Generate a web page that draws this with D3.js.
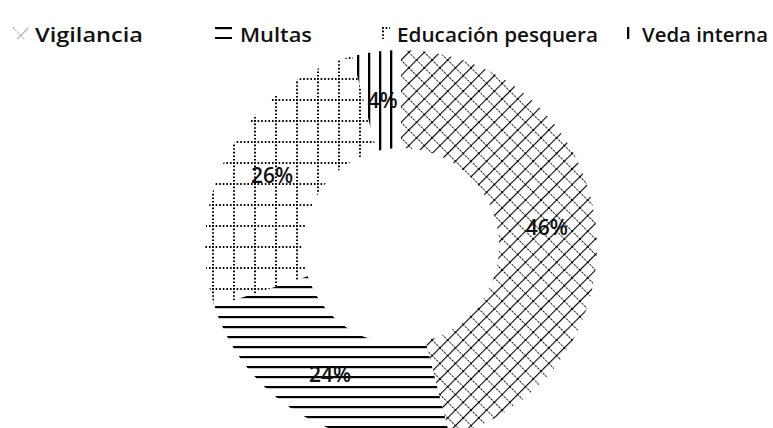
<!DOCTYPE html>
<html><head><meta charset="utf-8">
<script src="https://cdn.jsdelivr.net/npm/d3@7"></script>
<style>body{margin:0;background:#fff}svg{display:block}</style>
</head><body><svg id="c" width="773" height="428"></svg>
<script>
const categories = ["Vigilancia", "Multas", "Educación pesquera", "Veda interna"];
const values = [46, 24, 26, 4];
const patterns = ["pVig", "pMul", "pEdu", "pVed"];

const svg = d3.select("#c");
svg.append("rect").attr("width",773).attr("height",428).attr("fill","#fff");
const defs = svg.append("defs");

// Vigilancia: diagonal crosshatch
const p1 = defs.append("pattern").attr("id","pVig").attr("patternUnits","userSpaceOnUse")
  .attr("width",11).attr("height",11).attr("patternTransform","rotate(45)");
p1.append("line").attr("x1",0).attr("y1",0).attr("x2",11).attr("y2",0).attr("stroke","#000").attr("stroke-width",1.8).attr("stroke-dasharray","2,1.3");
p1.append("line").attr("x1",0).attr("y1",0).attr("x2",0).attr("y2",11).attr("stroke","#000").attr("stroke-width",2.2);
// Multas: horizontal lines
const p2 = defs.append("pattern").attr("id","pMul").attr("patternUnits","userSpaceOnUse")
  .attr("width",10).attr("height",10);
p2.append("line").attr("x1",0).attr("y1",1).attr("x2",10).attr("y2",1).attr("stroke","#000").attr("stroke-width",2.4);
// Educación: dotted grid
const p3 = defs.append("pattern").attr("id","pEdu").attr("patternUnits","userSpaceOnUse")
  .attr("width",21).attr("height",21);
p3.append("line").attr("x1",0).attr("y1",1).attr("x2",21).attr("y2",1).attr("stroke","#000").attr("stroke-width",2).attr("stroke-dasharray","1.6,2");
p3.append("line").attr("x1",1).attr("y1",0).attr("x2",1).attr("y2",21).attr("stroke","#000").attr("stroke-width",2).attr("stroke-dasharray","1.6,2");
// Veda: vertical lines
const p4 = defs.append("pattern").attr("id","pVed").attr("patternUnits","userSpaceOnUse")
  .attr("width",11).attr("height",11);
p4.append("line").attr("x1",1).attr("y1",0).attr("x2",1).attr("y2",11).attr("stroke","#000").attr("stroke-width",2.6);

const cx = 401, cy = 246, R = 196, r = 98;
const pie = d3.pie().sort(null).value(d => d)(values);
const arc = d3.arc().innerRadius(r).outerRadius(R);
const labelArc = d3.arc().innerRadius(147).outerRadius(147);
const total = d3.sum(values);

const g = svg.append("g").attr("transform",`translate(${cx},${cy})`);
g.selectAll("path.slice").data(pie).join("path").attr("class","slice")
  .attr("d",arc).attr("fill",(d,i)=>`url(#${patterns[i]})`);
g.selectAll("text.lbl").data(pie).join("text").attr("class","lbl")
  .attr("transform",d=>`translate(${labelArc.centroid(d)})`)
  .attr("text-anchor","middle").attr("dy","0.36em")
  .attr("font-family","Open Sans, sans-serif").attr("font-weight",600).attr("font-size",21)
  .attr("fill","#111")
  .text(d=>Math.round(d.value/total*100)+"%");

// Legend
const swatchX = [13, 215, 382, 627];
const swatchW = [15, 17, 8, 6];
const textX = [35, 240, 397, 642];
const textW = [108, 72, 201, 126];
const lg = svg.append("g");
categories.forEach((c,i)=>{
  lg.append("g").attr("transform",`translate(${swatchX[i]},27)`)
    .append("rect").attr("x",0).attr("y",0).attr("width",swatchW[i]).attr("height",12)
    .attr("fill",`url(#${patterns[i]})`).attr("opacity", i===0 ? 0.35 : 1);
  lg.append("text").attr("x",textX[i]).attr("y",42)
    .attr("font-family","Open Sans, sans-serif").attr("font-weight",600).attr("font-size",20)
    .attr("textLength",textW[i]).attr("lengthAdjust","spacingAndGlyphs")
    .attr("fill","#111").text(c);
});
</script></body></html>
